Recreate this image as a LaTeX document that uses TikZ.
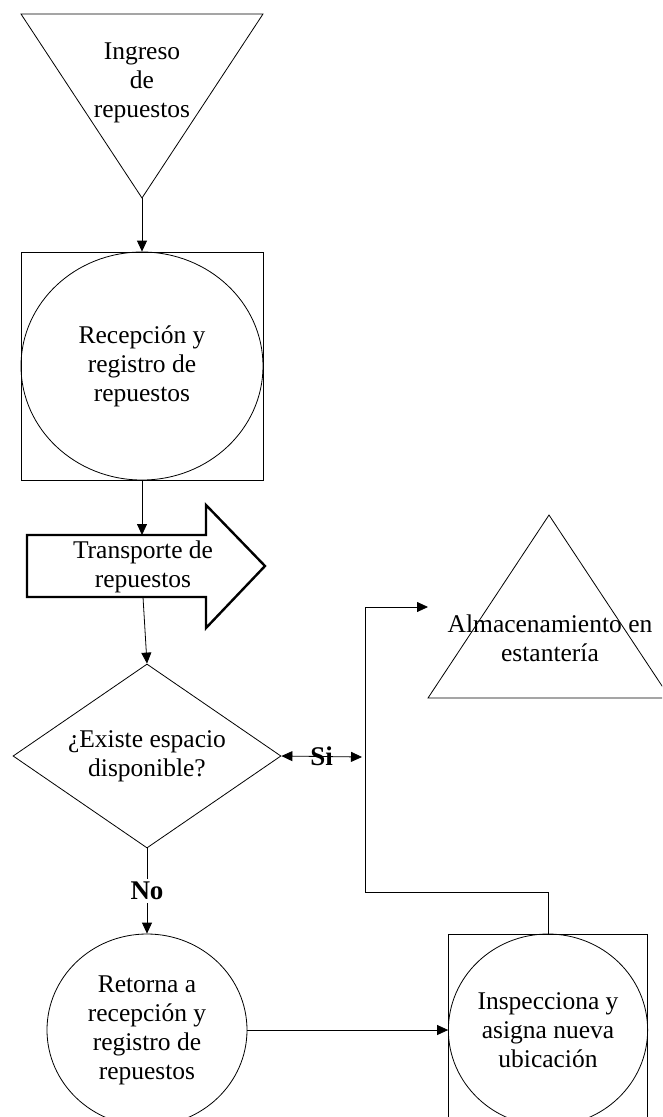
\documentclass[tikz,border=0pt]{standalone}
\usepackage{fontspec}
\setmainfont{Liberation Serif}
\usetikzlibrary{shapes,arrows,arrows.meta,positioning,calc}
\tikzstyle{outline} = [draw=black,line width=0.8pt,line join=miter]
\tikzstyle{heavy} = [draw=black,line width=2.4pt,line join=miter]
\tikzstyle{frame} = [draw=black,rectangle,inner sep=0pt,line width=0.8pt]
\tikzstyle{process} = [draw=black,ellipse,inner sep=0pt,line width=0.8pt,align=center]
\tikzstyle{decision} = [draw=black,diamond,aspect=1.46,inner sep=0pt,minimum width=268pt,minimum height=184pt,line width=0.8pt,align=center]
\tikzstyle{tag} = [font=\fontsize{27}{29}\selectfont\bfseries,inner sep=3pt]
\tikzstyle{flow} = [>={Triangle[length=11pt,width=10pt]},->,line width=0.8pt]

\begin{document}
\begin{tikzpicture}[x=1pt,y=-1pt,every node/.style={font=\fontsize{25.5}{29}\selectfont,align=center}]
    \useasboundingbox (0,0) rectangle (662,1117);
    \clip (0,0) rectangle (662,1117);

    % incoming spare parts
    \draw[outline] (21,14) -- (263,14) -- (142,198) -- cycle;
    \coordinate (ingreso) at (142,198);
    \node (ingresotxt) at (142,83) {Ingreso\\de\\repuestos};

    % reception and registration
    \node[frame, minimum width=242pt, minimum height=228pt] (recepbox) at (142,366) {};
    \node[process, minimum width=242pt, minimum height=228pt] (recep) at (142,366) {Recepción y\\registro de\\repuestos};

    % transport
    \draw[heavy] (27,535) -- (206,535) -- (206,505) -- (265,566) -- (206,628) -- (206,597) -- (27,597) -- cycle;
    \node (transp) at (143,567) {Transporte de\\repuestos};
    \coordinate (transpin) at (142,535);
    \coordinate (transpout) at (143,597);

    % free space?
    \node[decision] (espacio) at (147,756) {¿Existe espacio\\disponible?};

    % shelf storage
    \draw[outline] (549,515) -- (670,698) -- (428,698) -- cycle;
    \node (almac) at (550,638) {Almacenamiento en\\estantería};
    \coordinate (almacin) at (428,607);

    % back to reception
    \node[process, minimum width=200pt, minimum height=192pt] (retorna) at (147,1030) {Retorna a\\recepción y\\registro de\\repuestos};

    % inspection
    \node[frame, minimum width=199pt, minimum height=192pt] (inspbox) at (548,1030) {};
    \node[process, minimum width=199pt, minimum height=192pt] (insp) at (548,1030) {Inspecciona y\\asigna nueva\\ubicación};

    % junctions
    \coordinate (siend) at (362,757);
    \coordinate (bend) at (365,892);
    \coordinate (rise) at (365,607);

    % arrows
    \draw[flow] (ingreso) -- (recepbox.north);
    \draw[flow] (recepbox.south) -- (transpin);
    \draw[flow] (transpout) -- (espacio.north);
    \draw[flow,<->] (espacio.east) -- node[tag] {Si} (siend);
    \draw[flow] (espacio.south) -- node[tag, fill=white] {No} (retorna.north);
    \draw[flow] (retorna.east) -- (retorna.east -| inspbox.west);
    \draw[flow] (insp.north) |- (bend) -- (rise) -- (almacin);
\end{tikzpicture}
\end{document}
